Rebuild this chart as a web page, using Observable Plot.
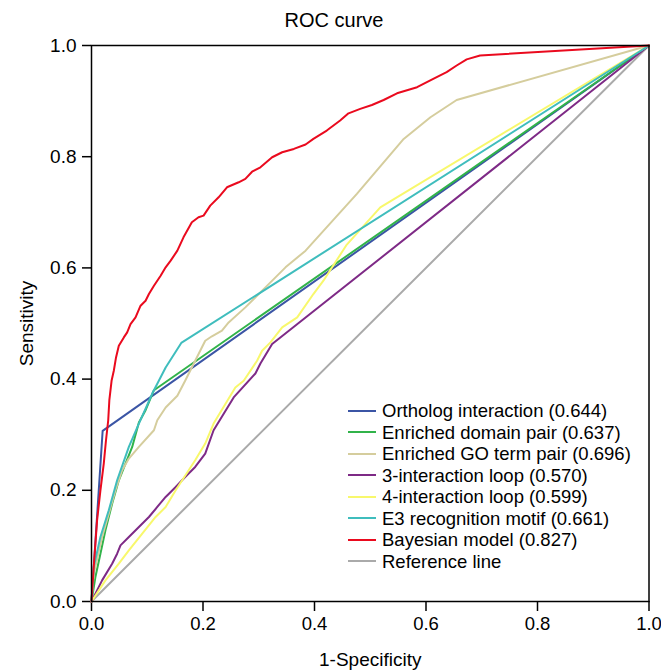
<!DOCTYPE html>
<html>
<head>
<meta charset="utf-8">
<script src="https://cdn.jsdelivr.net/npm/d3@7"></script>
<script src="https://cdn.jsdelivr.net/npm/@observablehq/plot@0.6"></script>
<style>
  html, body { margin: 0; padding: 0; background: white; }
  #wrap { position: relative; width: 661px; height: 671px; font-family: "Liberation Sans", Arial, sans-serif; }
  #title { position: absolute; left: 0; top: 8px; width: 668px; text-align: center; font-size: 20px; line-height: 24px; }
  #legend { position: absolute; left: 348px; top: 400px; font-size: 18.5px; line-height: 21.5px; }
  #legend .row { display: flex; align-items: center; white-space: nowrap; }
  #legend .sw { width: 28px; height: 2px; margin-right: 6px; }
</style>
</head>
<body>
<div id="wrap">
  <div id="title"></div>
  <div id="legend"></div>
</div>
<script>
// ---- Data ----
const chartTitle = "ROC curve";
const xLabel = "1-Specificity";
const yLabel = "Sensitivity";
const tickValues = [0, 0.2, 0.4, 0.6, 0.8, 1.0];

const seriesNames = [
  "Ortholog interaction (0.644)",
  "Enriched domain pair (0.637)",
  "Enriched GO term pair (0.696)",
  "3-interaction loop (0.570)",
  "4-interaction loop (0.599)",
  "E3 recognition motif (0.661)",
  "Bayesian model (0.827)",
  "Reference line"
];
const seriesColors = ["#3b55a5", "#31b34a", "#d5cd9d", "#7e2a86", "#f8f86c", "#3fbdbd", "#ea0a1e", "#aaaaaa"];

const orthologX = [0, 0.020, 1];
const orthologY = [0, 0.307, 1];

const domainX = [0, 0.007, 0.016, 0.025, 0.037, 0.049, 0.061, 0.073, 0.085, 0.097, 0.112, 1];
const domainY = [0, 0.044, 0.086, 0.128, 0.176, 0.218, 0.248, 0.278, 0.322, 0.344, 0.380, 1];

const goX = [0, 0.004, 0.019, 0.031, 0.043, 0.055, 0.067, 0.085, 0.112, 0.118, 0.133, 0.154, 0.168, 0.186, 0.204, 0.216, 0.234, 0.246, 0.276, 0.312, 0.348, 0.384, 0.476, 0.560, 0.608, 0.655, 1];
const goY = [0, 0.050, 0.116, 0.158, 0.200, 0.236, 0.257, 0.278, 0.308, 0.326, 0.349, 0.370, 0.397, 0.433, 0.469, 0.477, 0.487, 0.502, 0.529, 0.565, 0.601, 0.631, 0.733, 0.832, 0.871, 0.902, 1];

const loop3X = [0, 0.019, 0.037, 0.046, 0.052, 0.067, 0.085, 0.103, 0.118, 0.133, 0.151, 0.168, 0.186, 0.204, 0.219, 0.255, 0.294, 0.303, 0.324, 1];
const loop3Y = [0, 0.038, 0.068, 0.086, 0.101, 0.116, 0.134, 0.152, 0.170, 0.188, 0.206, 0.224, 0.242, 0.266, 0.308, 0.367, 0.410, 0.428, 0.463, 1];

const loop4X = [0, 0.025, 0.049, 0.067, 0.091, 0.115, 0.133, 0.151, 0.186, 0.204, 0.219, 0.258, 0.273, 0.297, 0.306, 0.321, 0.342, 0.369, 0.398, 0.416, 0.458, 0.518, 1];
const loop4Y = [0, 0.038, 0.068, 0.092, 0.122, 0.152, 0.170, 0.200, 0.254, 0.284, 0.320, 0.385, 0.397, 0.433, 0.451, 0.466, 0.493, 0.511, 0.553, 0.577, 0.642, 0.709, 1];

const e3X = [0, 0.004, 0.016, 0.031, 0.046, 0.067, 0.085, 0.109, 0.133, 0.161, 1];
const e3Y = [0, 0.062, 0.116, 0.164, 0.218, 0.278, 0.320, 0.374, 0.421, 0.465, 1];

const bayesX = [0, 0.004, 0.010, 0.016, 0.022, 0.026, 0.030, 0.032, 0.036, 0.040, 0.044, 0.049, 0.058, 0.064, 0.070, 0.079, 0.088, 0.097, 0.103, 0.112, 0.124, 0.133, 0.142, 0.154, 0.165, 0.180, 0.192, 0.201, 0.213, 0.228, 0.243, 0.264, 0.276, 0.288, 0.303, 0.324, 0.342, 0.363, 0.384, 0.398, 0.422, 0.446, 0.461, 0.482, 0.503, 0.524, 0.548, 0.584, 0.613, 0.637, 0.655, 0.673, 0.697, 1];
const bayesY = [0, 0.062, 0.146, 0.200, 0.248, 0.290, 0.326, 0.362, 0.397, 0.415, 0.439, 0.460, 0.475, 0.484, 0.499, 0.511, 0.532, 0.541, 0.553, 0.568, 0.586, 0.601, 0.613, 0.631, 0.655, 0.682, 0.691, 0.694, 0.712, 0.727, 0.745, 0.754, 0.760, 0.773, 0.781, 0.799, 0.808, 0.814, 0.822, 0.832, 0.847, 0.865, 0.878, 0.886, 0.893, 0.902, 0.914, 0.925, 0.940, 0.952, 0.964, 0.975, 0.982, 1];

const refX = [0, 1];
const refY = [0, 1];

// ---- Build table ----
const seriesXY = [
  [refX, refY, 7],
  [orthologX, orthologY, 0],
  [domainX, domainY, 1],
  [goX, goY, 2],
  [loop3X, loop3Y, 3],
  [loop4X, loop4Y, 4],
  [e3X, e3Y, 5],
  [bayesX, bayesY, 6]
];
const rows = [];
for (const [xs, ys, i] of seriesXY) {
  xs.forEach((x, k) => rows.push({series: seriesNames[i], order: i, x, y: ys[k]}));
}
const drawOrder = [7, 0, 1, 2, 3, 4, 5, 6];

const fmt = d3.format(".1f");
const chart = Plot.plot({
  width: 661,
  height: 671,
  marginTop: 45,
  marginRight: 12.5,
  marginBottom: 70,
  marginLeft: 91,
  style: {fontFamily: "'Liberation Sans', Arial, sans-serif", fontSize: "19px", background: "white", color: "black", overflow: "visible"},
  x: {domain: [0, 1], ticks: tickValues, tickFormat: fmt, label: xLabel, labelAnchor: "center", labelArrow: "none", labelOffset: 64, tickSize: 10, tickPadding: 5},
  y: {domain: [0, 1], ticks: tickValues, tickFormat: fmt, label: yLabel, labelAnchor: "center", labelArrow: "none", labelOffset: 72, tickSize: 9, tickPadding: 6},
  color: {domain: seriesNames, range: seriesColors},
  marks: [
    ...drawOrder.map(i => Plot.line(rows.filter(r => r.order === i), {x: "x", y: "y", stroke: "series", strokeWidth: 2, strokeLinejoin: "round"})),
    Plot.frame({stroke: "black", strokeWidth: 1.5})
  ]
});
chart.style.position = "absolute";
chart.style.left = "0px";
chart.style.top = "0px";
const wrap = document.getElementById("wrap");
wrap.insertBefore(chart, wrap.firstChild);
chart.querySelectorAll("[aria-label$='tick'] path, [aria-label$='tick'] line").forEach(el => { el.setAttribute("stroke-width", "1.5"); });
chart.querySelectorAll("[aria-label='x-axis tick label'] text").forEach(el => { el.style.fontSize = "18.5px"; });

document.getElementById("title").textContent = chartTitle;
const legend = document.getElementById("legend");
seriesNames.forEach((name, i) => {
  const row = document.createElement("div");
  row.className = "row";
  const sw = document.createElement("div");
  sw.className = "sw";
  sw.style.background = seriesColors[i];
  const t = document.createElement("span");
  t.textContent = name;
  row.appendChild(sw);
  row.appendChild(t);
  legend.appendChild(row);
});
</script>
</body>
</html>
